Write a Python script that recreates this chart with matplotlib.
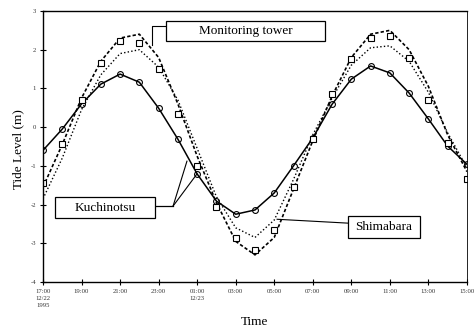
import matplotlib

matplotlib.use("Agg")
import matplotlib.pyplot as plt
from matplotlib.patches import Rectangle

# hours after 17:00 on 12/22
hours = list(range(23))

kuchinotsu = [-0.60, -0.05, 0.60, 1.11, 1.37, 1.16, 0.49, -0.31, -1.21, -1.91, -2.25, -2.14,
              -1.70, -1.00, -0.28, 0.59, 1.24, 1.58, 1.40, 0.88, 0.21, -0.49, -0.96]
shimabara = [-1.85, -0.80, 0.45, 1.35, 1.90, 2.00, 1.55, 0.70, -0.55, -1.80, -2.60, -2.85,
             -2.40, -1.35, -0.20, 0.75, 1.60, 2.05, 2.10, 1.70, 0.90, -0.15, -1.05]
tower_calc = [-1.55, -0.45, 0.75, 1.70, 2.30, 2.40, 1.80, 0.60, -0.75, -1.95, -2.95, -3.30,
              -2.85, -1.60, -0.35, 0.80, 1.80, 2.40, 2.50, 2.00, 1.05, -0.20, -1.15]
tower_obs = [-1.45, -0.44, 0.70, 1.65, 2.22, 2.17, 1.50, 0.34, -1.00, -2.07, -2.87, -3.18,
             -2.66, -1.55, -0.31, 0.85, 1.75, 2.30, 2.35, 1.78, 0.70, -0.41, -1.34]

tick_hours = [0, 2, 4, 6, 8, 10, 12, 14, 16, 18, 20, 22]
tick_labels = ["17:00\n12/22\n1995", "19:00", "21:00", "23:00", "01:00\n12/23", "03:00",
               "05:00", "07:00", "09:00", "11:00", "13:00", "15:00"]
y_ticks = [-4, -3, -2, -1, 0, 1, 2, 3]

serif = "Liberation Serif"

fig = plt.figure(figsize=(4.76, 3.30), dpi=100)
ax = fig.add_axes([0.0903, 0.1455, 0.8907, 0.8212])

ax.plot(hours, tower_calc, color="black", lw=1.2, ls=(0, (2.0, 1.3)))
ax.plot(hours, shimabara, color="black", lw=1.0, ls=(0, (1.0, 1.6)))
ax.plot(hours, kuchinotsu, color="black", lw=1.1, marker="o", ms=4.2,
        mfc="none", mec="black", mew=0.8)
ax.plot(hours, tower_obs, ls="none", marker="s", ms=4.2, mfc="white",
        mec="black", mew=0.8)

ax.set_xlim(0, 22)
ax.set_ylim(-4, 3)
ax.set_xticks(tick_hours)
ax.set_xticklabels(tick_labels, fontsize=4.8, family=serif, linespacing=1.5,
                   color="#333333")
ax.set_yticks(y_ticks)
ax.set_yticklabels([str(v) for v in y_ticks], fontsize=4.8, family=serif,
                   color="#333333")
ax.tick_params(direction="inout", length=4, width=0.8, pad=3)
for s in ax.spines.values():
    s.set_linewidth(1.0)
ax.spines["right"].set_linewidth(0.6)

ax.set_ylabel("Tide Level (m)", family=serif, fontsize=9.5)
ax.yaxis.set_label_coords(-0.045, 0.49)
ax.set_xlabel("Time", family=serif, fontsize=9.5)
ax.xaxis.set_label_coords(0.5, -0.125)

# label boxes: (x0, x1, y0, y1) in data units
boxes = [
    ("Monitoring tower", 6.38, 14.63, 2.22, 2.74),
    ("Kuchinotsu", 0.62, 5.81, -2.35, -1.81),
    ("Shimabara", 15.83, 19.56, -2.87, -2.30),
]
for text, x0, x1, y0, y1 in boxes:
    ax.add_patch(Rectangle((x0, y0), x1 - x0, y1 - y0, fill=True, fc="white",
                           ec="black", lw=0.9, zorder=5))
    ax.text((x0 + x1) / 2, (y0 + y1) / 2, text, ha="center", va="center",
            family=serif, fontsize=9.5, zorder=6)

# leader lines
ax.plot([6.38, 5.66, 5.66], [2.61, 2.61, 2.12], color="black", lw=0.8)
ax.plot([5.81, 6.75], [-2.04, -2.04], color="black", lw=0.9)
ax.plot([6.75, 7.47], [-2.04, -0.88], color="black", lw=0.8)
ax.plot([6.75, 7.99], [-2.04, -1.21], color="black", lw=0.8)
ax.plot([15.83, 12.15], [-2.48, -2.38], color="black", lw=0.8)

fig.savefig("out.png", dpi=100)
